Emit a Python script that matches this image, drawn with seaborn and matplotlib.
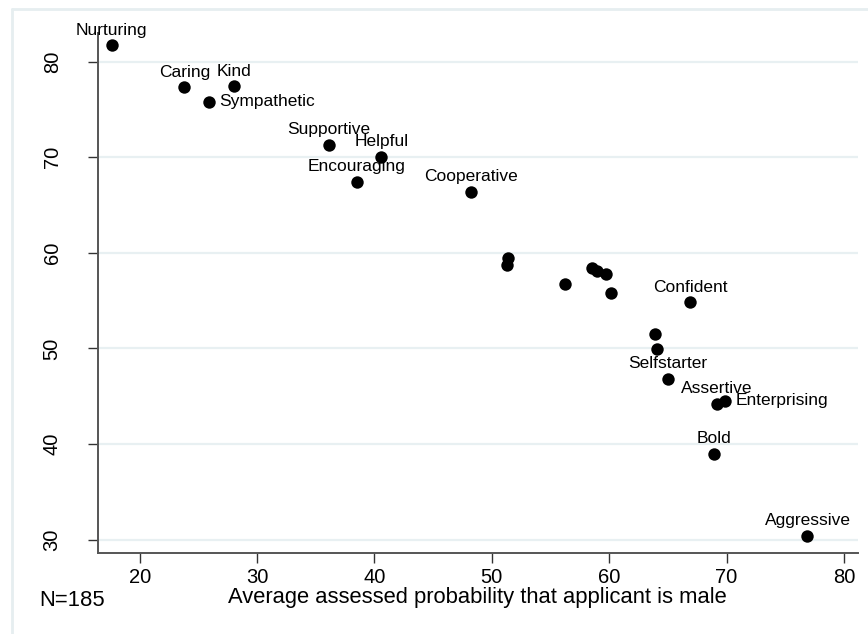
import matplotlib
matplotlib.use("Agg")
import matplotlib.pyplot as plt
import seaborn as sns
import pandas as pd
from matplotlib.lines import Line2D

# Word labels (empty = unlabeled point)
words = ["Nurturing", "Caring", "Kind", "Sympathetic", "Supportive", "Helpful",
         "Encouraging", "Cooperative", "", "", "", "", "", "", "",
         "Confident", "", "", "Selfstarter", "Assertive", "Enterprising",
         "Bold", "Aggressive"]
# Average assessed probability that applicant is male
prob_male = [17.6, 23.8, 28.0, 25.9, 36.1, 40.6, 38.5, 48.2, 51.4, 51.3, 56.2,
             58.5, 59.0, 59.7, 60.2, 66.9, 63.9, 64.1, 65.0, 69.2, 69.9, 68.9, 76.9]
# Y values
y_vals = [81.7, 77.35, 77.45, 75.8, 71.3, 70.05, 67.45, 66.4, 59.45, 58.7, 56.7,
          58.45, 58.15, 57.8, 55.8, 54.85, 51.55, 49.9, 46.85, 44.2, 44.55, 39.0, 30.4]

x_ticks = [20, 30, 40, 50, 60, 70, 80]
y_ticks = [30, 40, 50, 60, 70, 80]

# label placement: words not listed go above the marker
right_labels = {"Sympathetic", "Enterprising"}

df = pd.DataFrame({"word": words, "x": prob_male, "y": y_vals})

sns.set_style("white")
plt.rcParams["font.family"] = ["Liberation Sans", "DejaVu Sans"]
plt.rcParams["text.color"] = "black"
plt.rcParams["axes.labelcolor"] = "black"
plt.rcParams["xtick.labelcolor"] = "black"
plt.rcParams["ytick.labelcolor"] = "black"

fig = plt.figure(figsize=(8.68, 6.34), dpi=100)
ax = fig.add_axes([0.1126, 0.1278, 0.8754, 0.8202])

grid_c = "#E8F0F2"
for yt in y_ticks:
    ax.axhline(yt, color=grid_c, lw=1.6, zorder=0)

sns.scatterplot(data=df, x="x", y="y", ax=ax, color="black", s=80,
                edgecolor="black", linewidth=0, zorder=3, legend=False)

for _, r in df.iterrows():
    if not r["word"]:
        continue
    if r["word"] in right_labels:
        ax.annotate(r["word"], (r["x"], r["y"]), xytext=(7.2, 0),
                    textcoords="offset points", ha="left", va="center",
                    fontsize=12.5, color="black", annotation_clip=False,
                    zorder=4)
    else:
        ax.annotate(r["word"], (r["x"], r["y"]), xytext=(0, 7.5),
                    textcoords="offset points", ha="center", va="baseline",
                    fontsize=12.5, color="black", annotation_clip=False,
                    zorder=4)

ax.set_xlim(16.42, 81.17)
ax.set_ylim(28.6, 83.0)
ax.set_xticks(x_ticks)
ax.set_yticks(y_ticks)
ax.set_xticklabels([str(t) for t in x_ticks], fontsize=14.5)
ax.set_yticklabels([str(t) for t in y_ticks], fontsize=14.5, rotation=90,
                   va="center")
ax.tick_params(axis="x", direction="out", length=7, width=1, color="#333333",
               pad=4, bottom=True)
ax.tick_params(axis="y", direction="out", length=7, width=1, color="#333333",
               pad=19, left=True)

for side in ["top", "right"]:
    ax.spines[side].set_visible(False)
for side in ["left", "bottom"]:
    ax.spines[side].set_color("#555555")
    ax.spines[side].set_linewidth(1.4)

ax.set_xlabel("Average assessed probability that applicant is male",
              fontsize=15.8, labelpad=0, color="black")
ax.set_ylabel("")

fig.text(39.3 / 868, 1 - 601 / 634, "N=185", fontsize=15.8,
         ha="left", va="center", color="black")

# outer graph-region frame
frame_c = "#E6EEF0"
fig.add_artist(Line2D([12 / 868, 1.0], [1 - 8.5 / 634, 1 - 8.5 / 634],
                      color=frame_c, lw=2))
fig.add_artist(Line2D([12 / 868, 12 / 868], [0, 1 - 8.5 / 634],
                      color=frame_c, lw=2))

fig.savefig("out.png", dpi=100)
plt.close(fig)
